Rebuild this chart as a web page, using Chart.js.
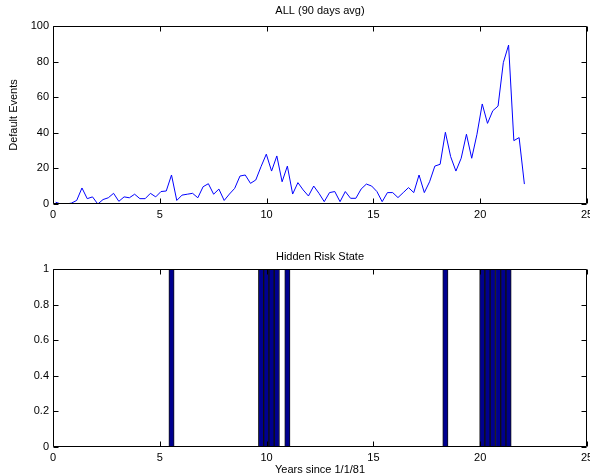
<!DOCTYPE html>
<html>
<head>
<meta charset="utf-8">
<script src="https://cdn.jsdelivr.net/npm/chart.js@4.4.1/dist/chart.umd.min.js"></script>
<style>
  html, body { margin: 0; padding: 0; background: #fff; overflow: hidden; }
  body { width: 590px; height: 476px; position: relative; }
  canvas { position: absolute; left: 0; display: block; }
  #defaults { top: 0; }
  #state { top: 240px; }
</style>
</head>
<body>
<canvas id="defaults" width="620" height="240"></canvas>
<canvas id="state" width="620" height="236"></canvas>
<script>
// quarterly (90-day) windows starting 1/1/81
const PERIOD_DAYS = 90;

// default events per window, 90-day average
const defaultEvents = [
  1, 0, 0, 0.5, 2, 9, 3, 4, 0, 2.5,
  3.5, 6, 1.5, 4, 3.5, 5.5, 3, 3, 6, 4,
  7, 7.3, 16.3, 2, 5, 5.5, 6, 3.5, 9.7, 11.4,
  5.5, 8.4, 2, 5.6, 8.8, 15.7, 16.3, 11.6, 13.5, 21,
  28, 18.5, 27, 12.5, 21.3, 5.6, 12, 7.9, 4.5, 10.1,
  6, 1.3, 6.4, 7, 1.3, 7, 3.2, 3.2, 8.4, 11.2,
  10.1, 7, 1.3, 6.4, 6.4, 3.6, 6.4, 9.2, 6.4, 16.3,
  6.4, 12.5, 21.3, 22.3, 40.3, 26.6, 18.5, 25.7, 39.2, 25.7,
  39.2, 56.2, 45.3, 52.4, 55, 79.4, 89.3, 35.6, 37.3, 11.2
];

// decoded hidden state per window (1 = high risk)
const riskState = [
  0, 0, 0, 0, 0, 0, 0, 0, 0, 0,
  0, 0, 0, 0, 0, 0, 0, 0, 0, 0,
  0, 0, 1, 0, 0, 0, 0, 0, 0, 0,
  0, 0, 0, 0, 0, 0, 0, 0, 0, 1,
  1, 1, 1, 0, 1, 0, 0, 0, 0, 0,
  0, 0, 0, 0, 0, 0, 0, 0, 0, 0,
  0, 0, 0, 0, 0, 0, 0, 0, 0, 0,
  0, 0, 0, 0, 1, 0, 0, 0, 0, 0,
  0, 1, 1, 1, 1, 1, 1, 0, 0, 0
];

const xTicks = [0, 5, 10, 15, 20, 25];
const eventTicks = [0, 20, 40, 60, 80, 100];
const stateTicks = [0, 0.2, 0.4, 0.6, 0.8, 1];

// window midpoints in years
const years = defaultEvents.map((_, i) => (i + 0.5) * PERIOD_DAYS / 365);

const FONT = '"Liberation Sans", Arial, Helvetica, sans-serif';
const font = { family: FONT, size: 11, weight: 'normal', lineHeight: '13px' };

// box around the plot with inward ticks on all four sides
const frame = {
  id: 'frame',
  afterDatasetsDraw(chart) {
    const { ctx, chartArea: a, scales } = chart;
    const len = 5;
    const L = Math.round(a.left) + 0.5, R = Math.round(a.right) - 0.5;
    const T = Math.round(a.top) + 0.5, B = Math.round(a.bottom) - 0.5;
    ctx.save();
    ctx.strokeStyle = '#000';
    ctx.lineWidth = 1;
    ctx.beginPath();
    ctx.rect(L, T, R - L, B - T);
    scales.x.ticks.forEach(t => {
      const px = Math.round(scales.x.getPixelForValue(t.value)) + 0.5;
      ctx.moveTo(px, B); ctx.lineTo(px, B - len);
      ctx.moveTo(px, T); ctx.lineTo(px, T + len);
    });
    scales.y.ticks.forEach(t => {
      const py = Math.round(scales.y.getPixelForValue(t.value)) + 0.5;
      ctx.moveTo(L, py); ctx.lineTo(L + len, py);
      ctx.moveTo(R, py); ctx.lineTo(R - len, py);
    });
    ctx.stroke();
    ctx.restore();
  }
};

function fixedTicks(list) {
  return s => { s.ticks = list.map(v => ({ value: v })); };
}

function options(t) {
  return {
    responsive: false,
    animation: false,
    events: [],
    layout: { padding: { left: 0, right: 33, top: 0, bottom: 0 } },
    plugins: {
      legend: { display: false },
      tooltip: { enabled: false },
      title: {
        display: true, text: t.title, fullSize: false, color: '#000', font,
        padding: t.titlePad,
      },
    },
    scales: {
      x: {
        type: 'linear', min: 0, max: 25, offset: false,
        afterBuildTicks: fixedTicks(xTicks),
        afterFit: s => { s.height = t.xHeight; },
        grid: { display: false, drawTicks: false, offset: false },
        border: { display: false },
        ticks: { color: '#000', font, padding: 4, maxRotation: 0, autoSkip: false },
        title: {
          display: !!t.xTitle, text: t.xTitle || '', color: '#000', font,
          padding: { top: 0, bottom: 0 },
        },
      },
      y: {
        type: 'linear', min: t.yMin, max: t.yMax,
        afterBuildTicks: fixedTicks(t.yTicks),
        afterFit: s => { s.width = 53; },
        grid: { display: false, drawTicks: false },
        border: { display: false },
        ticks: { color: '#000', font, padding: 4, callback: v => String(v) },
        title: {
          display: !!t.yTitle, text: t.yTitle || '', color: '#000', font,
          padding: { top: 7, bottom: 0 },
        },
      },
    },
  };
}

new Chart(document.getElementById('defaults'), {
  type: 'line',
  data: {
    datasets: [{
      data: years.map((x, i) => ({ x, y: defaultEvents[i] })),
      borderColor: '#0000ff', borderWidth: 1, tension: 0,
      pointRadius: 0, fill: false,
    }],
  },
  options: options({
    title: 'ALL (90 days avg)', titlePad: { top: 4, bottom: 9 },
    xHeight: 36, yMin: 0, yMax: 100, yTicks: eventTicks, yTitle: 'Default Events',
  }),
  plugins: [frame],
});

new Chart(document.getElementById('state'), {
  type: 'bar',
  data: {
    datasets: [{
      data: years.map((x, i) => ({ x, y: riskState[i] })),
      backgroundColor: '#00008f', borderColor: '#111', borderWidth: 1,
      barPercentage: 1, categoryPercentage: 1,
    }],
  },
  options: options({
    title: 'Hidden Risk State', titlePad: { top: 10, bottom: 6 },
    xHeight: 29, yMin: 0, yMax: 1, yTicks: stateTicks, xTitle: 'Years since 1/1/81',
  }),
  plugins: [frame],
});
</script>
</body>
</html>
